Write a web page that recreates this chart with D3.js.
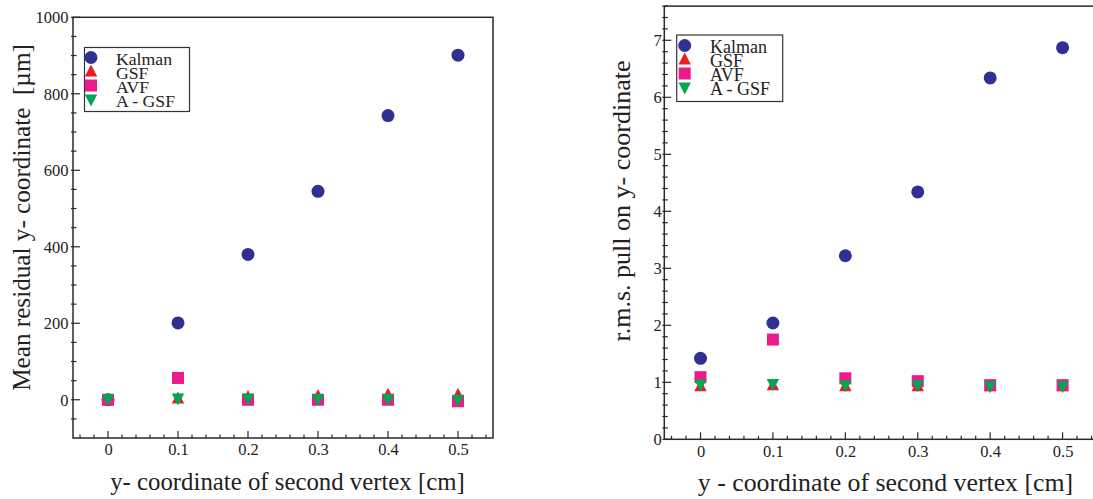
<!DOCTYPE html>
<html>
<head>
<meta charset="utf-8">
<script src="https://cdn.jsdelivr.net/npm/d3@7"></script>
<style>
html,body{margin:0;padding:0;background:#fff;overflow:hidden;}
svg{display:block;}
svg text{font-family:'Liberation Serif','Tinos','Times New Roman',Times,'DejaVu Serif',serif !important;fill:#222;white-space:pre;}
</style>
</head>
<body>
<svg id="chart" width="1093" height="499"></svg>
<script>
// ---- data ----
const xValues = [0, 0.1, 0.2, 0.3, 0.4, 0.5];
const seriesNames = ["Kalman", "GSF", "AVF", "A - GSF"];

// Left panel: mean residual on y-coordinate [µm]
const residualKalman = [0, 201, 380, 545, 743, 901];
const residualGSF    = [0, 3, 7, 10, 13, 13];
const residualAVF    = [0, 57, 0, 0, 0, -4];
const residualAGSF   = [2, 3, 3, 2, 2, 0];

// Right panel: r.m.s. pull on y-coordinate
const pullKalman = [1.42, 2.04, 3.22, 4.34, 6.34, 6.87];
const pullGSF    = [0.93, 0.95, 0.93, 0.93, 0.93, 0.93];
const pullAVF    = [1.09, 1.75, 1.07, 1.02, 0.95, 0.95];
const pullAGSF   = [0.96, 0.97, 0.95, 0.95, 0.93, 0.93];

const xTickValues = [0, 0.1, 0.2, 0.3, 0.4, 0.5];
const xTickLabels = ["0", "0.1", "0.2", "0.3", "0.4", "0.5"];
const leftYTicks  = [0, 200, 400, 600, 800, 1000];
const rightYTicks = [0, 1, 2, 3, 4, 5, 6, 7];

// ---- styles ----
const FONT = "'Liberation Serif','Tinos','Times New Roman',Times,'DejaVu Serif',serif";
const colors = {"Kalman": "#2e3192", "GSF": "#ed1c24", "AVF": "#ec1a8c", "A - GSF": "#00a651"};
const shapes = {"Kalman": "circle", "GSF": "up", "AVF": "square", "A - GSF": "down"};

const svg = d3.select("#chart");

function symbolPath(shape) {
  if (shape === "circle") return d3.symbol().type(d3.symbolCircle).size(Math.PI * 6.5 * 6.5)();
  if (shape === "square") return "M-6,-6H6V6H-6Z";
  if (shape === "up") return "M0,-7L6.2,5L-6.2,5Z";
  if (shape === "down") return "M0,7L6.2,-5L-6.2,-5Z";
}

function panel(cfg) {
  const g = svg.append("g").attr("font-family", FONT);
  const x = d3.scaleLinear().domain([-0.05, 0.55]).range([cfg.left, cfg.right]);
  const y = d3.scaleLinear().domain(cfg.yDomain).range([cfg.bottom, cfg.top]);

  // frame
  g.append("rect").attr("x", cfg.left).attr("y", cfg.top)
    .attr("width", cfg.right - cfg.left).attr("height", cfg.bottom - cfg.top)
    .attr("fill", "none").attr("stroke", "#2a2a2a").attr("stroke-width", 1.5);

  // x axis: ticks inward
  const xMinor = d3.range(-0.04, 0.55, 0.02).map(v => Math.round(v * 100) / 100);
  const xAxis = d3.axisBottom(x).tickValues(xTickValues)
    .tickFormat((d, i) => xTickLabels[i]).tickSize(0).tickPadding(cfg.xPad);
  const xa = g.append("g").attr("transform", `translate(0,${cfg.bottom})`).call(xAxis);
  xa.attr("font-family", FONT);
  xa.select(".domain").remove();
  xa.selectAll("text").attr("font-size", 16.5).attr("fill", "#222").attr("font-family", FONT);
  g.selectAll(".xminor").data(xMinor).enter().append("line")
    .attr("x1", d => x(d)).attr("x2", d => x(d))
    .attr("y1", cfg.bottom).attr("y2", d => cfg.bottom - (Math.abs(d * 10 - Math.round(d * 10)) < 1e-6 ? 7 : 3.5))
    .attr("stroke", "#2a2a2a").attr("stroke-width", 1.2);

  // y axis
  const yAxis = d3.axisLeft(y).tickValues(cfg.yTicks).tickFormat(d3.format("d"))
    .tickSize(0).tickPadding(cfg.yPad);
  const ya = g.append("g").attr("transform", `translate(${cfg.left},0)`).call(yAxis);
  ya.attr("font-family", FONT);
  ya.select(".domain").remove();
  ya.selectAll("text").attr("font-size", 16.5).attr("fill", "#222").attr("font-family", FONT);
  g.selectAll(".yminor").data(cfg.yMinor).enter().append("line")
    .attr("x1", cfg.left - 2).attr("x2", d => cfg.left + (cfg.yTicks.includes(d) ? 7 : 3.5))
    .attr("y1", d => y(d)).attr("y2", d => y(d))
    .attr("stroke", "#2a2a2a").attr("stroke-width", 1.2);

  // data
  seriesNames.forEach((name, si) => {
    const vals = cfg.series[si];
    g.append("g").selectAll("path").data(xValues.map((xv, i) => [xv, vals[i]]).filter(d => d[1] != null))
      .enter().append("path")
      .attr("d", symbolPath(shapes[name]))
      .attr("transform", d => `translate(${x(d[0])},${y(d[1])})`)
      .attr("fill", colors[name]);
  });

  // legend
  const L = cfg.legend;
  const lg = g.append("g");
  lg.append("rect").attr("x", L.x).attr("y", L.y).attr("width", L.w).attr("height", L.h)
    .attr("fill", "#fff").attr("stroke", "#333").attr("stroke-width", 1.2);
  seriesNames.forEach((name, i) => {
    const cy = L.y + L.first + i * L.step;
    lg.append("path").attr("d", symbolPath(shapes[name]))
      .attr("transform", `translate(${L.x + L.sym},${cy})`)
      .attr("fill", colors[name]);
    lg.append("text").attr("x", L.x + L.tx).attr("y", cy + 7)
      .attr("font-size", L.fs).attr("font-family", FONT).text(name);
  });

  // titles
  g.append("text").attr("x", cfg.xTitle.x).attr("y", cfg.xTitle.y)
    .attr("text-anchor", "middle").attr("font-size", cfg.xTitle.fs).attr("font-family", FONT).text(cfg.xTitle.text);
  g.append("text").attr("transform", `translate(${cfg.yTitle.x},${cfg.yTitle.y}) rotate(-90)`)
    .attr("text-anchor", "middle").attr("font-size", cfg.yTitle.fs).attr("font-family", FONT)
    .attr("xml:space", "preserve").text(cfg.yTitle.text);
}

panel({
  left: 73, right: 493, top: 17.3, bottom: 438,
  yDomain: [-100, 1000], yTicks: leftYTicks, yPad: 4.5, xPad: 5,
  yMinor: d3.range(-50, 1001, 50),
  series: [residualKalman, residualGSF, residualAVF, residualAGSF],
  legend: {x: 84.5, y: 47.5, w: 105, h: 64, first: 10, step: 14, sym: 6.5, tx: 31.5, fs: 17.7},
  xTitle: {x: 287.5, y: 490, fs: 24.8, text: "y- coordinate of second vertex [cm]"},
  yTitle: {x: 30, y: 217.5, fs: 25.2, text: "Mean residual y- coordinate  [µm]"}
});

panel({
  left: 664.3, right: 1098.8, top: 6.1, bottom: 439.3,
  yDomain: [0, 7.6], yTicks: rightYTicks, yPad: 2.6, xPad: 5.7,
  yMinor: d3.range(0, 7.61, 0.2).map(v => Math.round(v * 10) / 10),
  series: [pullKalman, pullGSF, pullAVF, pullAGSF],
  legend: {x: 676.7, y: 35, w: 106, h: 66.5, first: 10.5, step: 14, sym: 8, tx: 33.3, fs: 18},
  xTitle: {x: 885.5, y: 491, fs: 25.8, text: "y - coordinate of second vertex [cm]"},
  yTitle: {x: 630, y: 201, fs: 26, text: "r.m.s. pull on y- coordinate"}
});
</script>
</body>
</html>
